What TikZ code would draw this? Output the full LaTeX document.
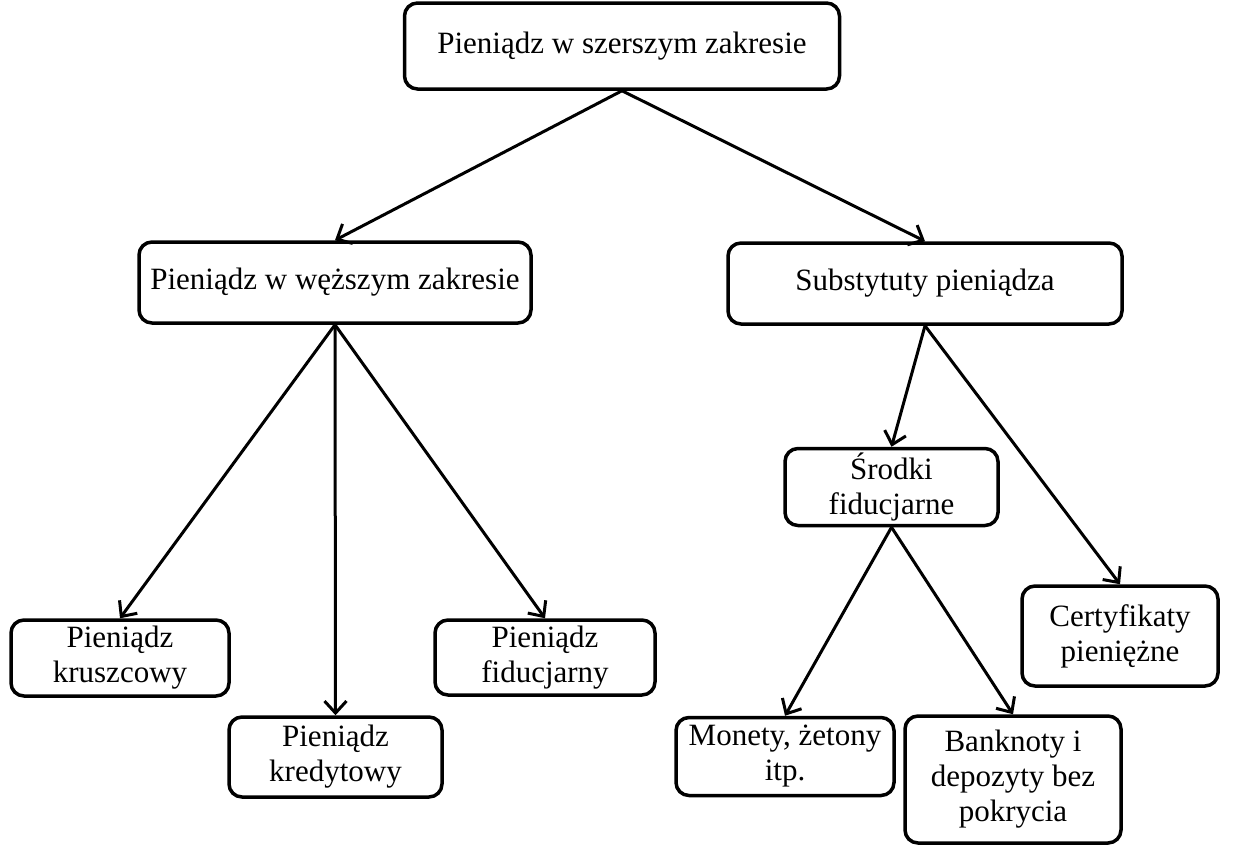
\documentclass[tikz,border=0pt]{standalone}
\usepackage{fontspec}
\setmainfont{Liberation Serif}
\usetikzlibrary{arrows.meta}
\begin{document}
\begin{tikzpicture}[x=1pt,y=-1pt,
  box/.style={draw=black, line width=3.5pt, rounded corners=13pt, fill=white, align=center, inner sep=0pt, font=\fontsize{31}{35}\selectfont},
  arr/.style={line width=3pt, -{Straight Barb[length=12pt,width=22pt,line width=3pt]}}]
\useasboundingbox (0,0) rectangle (1249,846);
\node[box, minimum width=435pt, minimum height=86pt] (top) at (622,46) {Pieniądz w szerszym zakresie};
\node[box, minimum width=392pt, minimum height=81pt] (narrow) at (335,282.5) {Pieniądz w węższym zakresie};
\node[box, minimum width=394pt, minimum height=81pt] (subst) at (925,283.5) {Substytuty pieniądza};
\node[box, minimum width=213pt, minimum height=77pt] (srodki) at (891.5,487) {Środki\\fiducjarne};
\node[box, minimum width=196pt, minimum height=100pt] (cert) at (1120,636) {Certyfikaty\\pieniężne};
\node[box, minimum width=218pt, minimum height=76pt] (krusz) at (120,658) {Pieniądz\\kruszcowy};
\node[box, minimum width=213pt, minimum height=80pt] (kred) at (335.5,757) {Pieniądz\\kredytowy};
\node[box, minimum width=220pt, minimum height=75pt] (fid) at (545,657.5) {Pieniądz\\fiducjarny};
\node[box, minimum width=218pt, minimum height=78pt] (monety) at (785,756.5) {Monety, żetony\\itp.};
\node[box, minimum width=216pt, minimum height=127pt] (bank) at (1013,779.5) {Banknoty i\\depozyty bez\\pokrycia};

\draw[arr] (top.south) -- (narrow.north);
\draw[arr] (top.south) -- (subst.north);
\draw[arr] (narrow.south) -- (krusz.north);
\draw[arr] (narrow.south) -- (kred.north);
\draw[arr] (narrow.south) -- (fid.north);
\draw[arr] (subst.south) -- (srodki.north);
\draw[arr] (subst.south) -- (cert.north);
\draw[arr] (srodki.south) -- (monety.north);
\draw[arr] (srodki.south) -- (bank.north);
\end{tikzpicture}
\end{document}
